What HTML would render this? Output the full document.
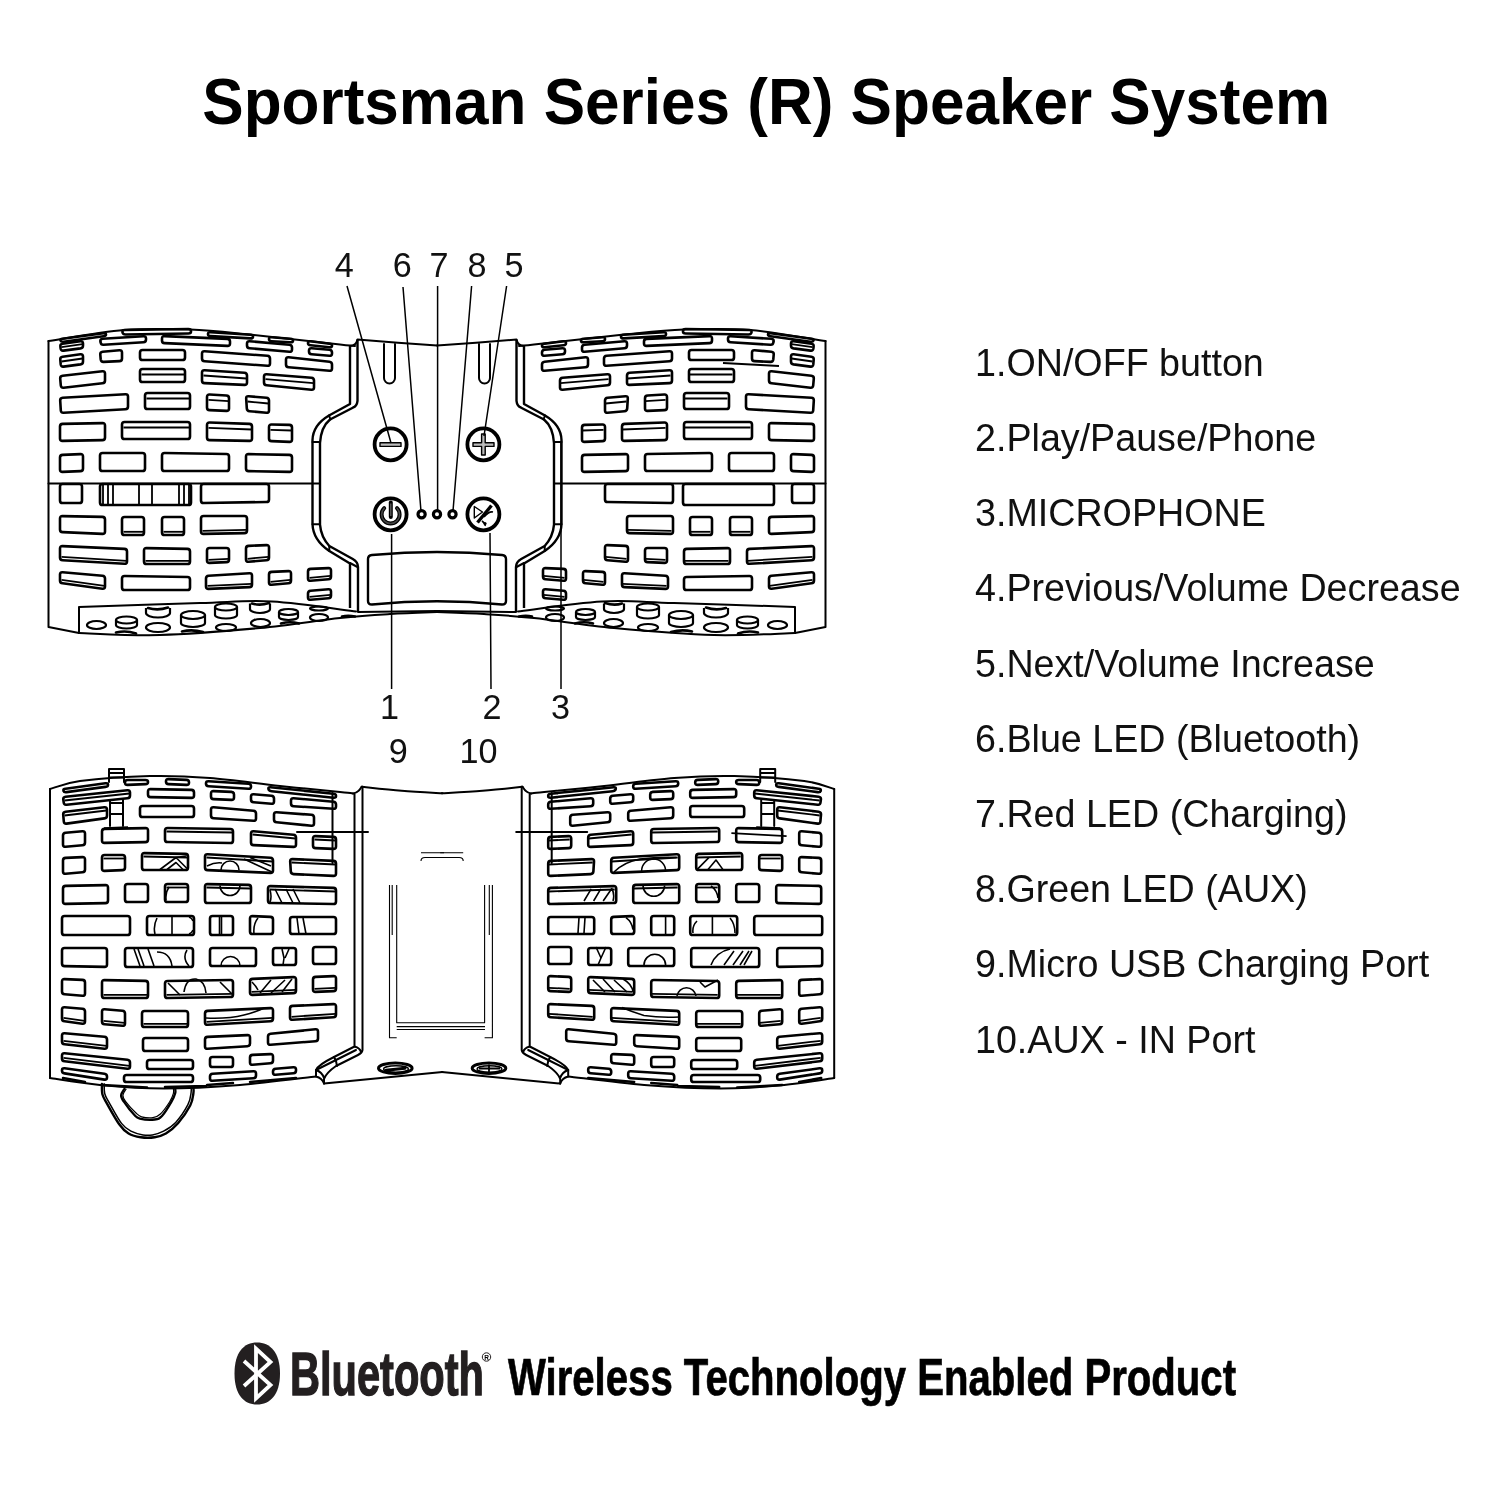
<!DOCTYPE html>
<html><head><meta charset="utf-8"><title>Sportsman Series Speaker System</title>
<style>
html,body{margin:0;padding:0;background:#fff;}
body{width:1500px;height:1500px;overflow:hidden;position:relative;}
svg{position:absolute;left:0;top:0;}
text{will-change:transform;}
text{font-family:"Liberation Sans",sans-serif;fill:#000;}
.title{font-size:64px;font-weight:bold;}
.li{font-size:39.4px;fill:#111;}
.lab{font-size:34.2px;text-anchor:middle;fill:#111;transform-box:fill-box;}
.bt{font-size:62px;font-weight:bold;fill:#231f20;stroke:#231f20;stroke-width:1.4;}
.wt{font-size:51.5px;font-weight:bold;stroke:#000;stroke-width:0.7;}
.ol{fill:none;stroke:#000;stroke-width:2;stroke-linejoin:round;stroke-linecap:round;}
.ow{fill:none;stroke:#000;stroke-width:2.4;stroke-linejoin:round;}
.ol2{fill:none;stroke:#000;stroke-width:3;}
.tl{fill:none;stroke:#000;stroke-width:1.1;stroke-linejoin:round;}
.hl path{fill:none;stroke:#000;stroke-width:2.6;stroke-linejoin:round;}
.hl .il,.il{fill:none;stroke:#000;stroke-width:1.8;}
.sl{fill:none;stroke:#000;stroke-width:2.5;stroke-linecap:round;}
.ov ellipse,.ov path{fill:none;stroke:#000;stroke-width:2.2;}
.btn circle{fill:none;stroke:#000;stroke-width:3.8;}
.led circle{fill:none;stroke:#000;stroke-width:3.2;}
.pw{fill:none;stroke:#000;stroke-width:4;stroke-linecap:round;}.pw0{fill:none;stroke:#444;stroke-width:1.6;stroke-linecap:round;}.pwb{fill:none;stroke:#000;stroke-width:4;stroke-linecap:round;}
.ld{fill:none;stroke:#000;stroke-width:1.5;}
</style></head>
<body>
<svg width="1500" height="1500" viewBox="0 0 1500 1500">
<text class="title" x="202.3" y="123.5" textLength="1127.8" lengthAdjust="spacingAndGlyphs">Sportsman Series (R) Speaker System</text>
<text class="li" x="975" y="375.9" transform="translate(975,0) scale(0.956,1) translate(-975,0)">1.ON/OFF button</text>
<text class="li" x="975" y="451.1" transform="translate(975,0) scale(0.956,1) translate(-975,0)">2.Play/Pause/Phone</text>
<text class="li" x="975" y="526.3" transform="translate(975,0) scale(0.956,1) translate(-975,0)">3.MICROPHONE</text>
<text class="li" x="975" y="601.5" transform="translate(975,0) scale(0.956,1) translate(-975,0)">4.Previous/Volume Decrease</text>
<text class="li" x="975" y="676.7" transform="translate(975,0) scale(0.956,1) translate(-975,0)">5.Next/Volume Increase</text>
<text class="li" x="975" y="751.9" transform="translate(975,0) scale(0.956,1) translate(-975,0)">6.Blue LED (Bluetooth)</text>
<text class="li" x="975" y="827.1" transform="translate(975,0) scale(0.956,1) translate(-975,0)">7.Red LED (Charging)</text>
<text class="li" x="975" y="902.3" transform="translate(975,0) scale(0.956,1) translate(-975,0)">8.Green LED (AUX)</text>
<text class="li" x="975" y="977.5" transform="translate(975,0) scale(0.956,1) translate(-975,0)">9.Micro USB Charging Port</text>
<text class="li" x="975" y="1052.7" transform="translate(975,0) scale(0.956,1) translate(-975,0)">10.AUX - IN Port</text>
<text class="lab" x="344.2" y="277.3">4</text>
<text class="lab" x="402.2" y="277.3">6</text>
<text class="lab" x="439" y="277.3">7</text>
<text class="lab" x="477" y="277.3">8</text>
<text class="lab" x="514" y="277.3">5</text>
<text class="lab" x="389.5" y="719.3">1</text>
<text class="lab" x="492" y="719.3">2</text>
<text class="lab" x="560.5" y="719.3">3</text>
<text class="lab" x="398.3" y="762.8">9</text>
<text class="lab" x="478.6" y="762.8">10</text>
<g><path class="ol" d="M48.5,341 C61.1,339.2 100.4,331.9 124,330 C147.6,328.1 169,328.8 190,329.5 C211,330.2 225,332 250,334.5 C275,337 322.5,342.6 340,344.5 C357.5,346.4 352.5,345.8 355,346"/>
<path class="ol" d="M48.5,341 V627 L79,633"/>
<path class="ol" d="M79,633 V607  C99.2,606.3 167.8,603.9 200,603 C232.2,602.1 246,600.1 272,601.5 C298,602.9 342,609.8 356,611.5"/>
<path class="ol" d="M79,633 C92.5,633.3 129.8,635.8 160,635 C190.2,634.2 230,630.8 260,628 C290,625.2 318.3,620.3 340,618 C361.7,615.7 373.8,615 390,614 C406.2,613 429.2,612.3 437,612"/>
<path class="ol" d="M358,612 L437,611"/>
<path class="ol" d="M48.5,483.6 H320"/>
<path class="ow" d="M350,346 V404 L329,415.5 Q313,425 312.5,440 V524 Q313,540 329.3,551 L350,563.5 V608"/>
<path class="ow" d="M357.5,339.5 V400.8 Q357,406 352.8,407.7 L330,419.5 Q321,427 320,443 V524.7 Q321,537 329.3,546 L352.8,559 Q358,562 358,567 V612"/>
<path class="ol" d="M329,415.5 L330.5,419.5 M312.5,442 H320 M312.5,524.3 H320 M329.3,546 V551 M350,563 L357.5,567"/>
<path class="ol" d="M350,346 Q356,346 357.5,339.5 L398,342.8 L437,345.5"/>
<path class="ol" d="M384,344 V378 A5.5,5.5 0 0 0 395,378 V344"/>
<g class="hl"><path d="M60.5,340.4 Q60,339 62.6,338.7 L103.4,333.3 Q106,333 106,334.4 L106,334.6 Q106,336 103.4,336.3 L63.6,341.7 Q61,342 60.5,340.6 Z"/><path d="M122.5,332 Q122,330 124.6,330 L188.4,329 Q191,329 191,331 L191,331.5 Q191,333.5 188.4,333.5 L125.6,334.5 Q123,334.5 122.5,332.5 Z"/><path d="M208,333.8 Q208,332 210.6,332.2 L250.4,334.8 Q253,335 253,336.6 L253,336.9 Q253,338.5 250.4,338.4 L210.6,336.1 Q208,336 208,334.2 Z"/><path d="M269,338.8 Q269,337 271.6,337.2 L290.4,338.8 Q293,339 293,340.6 L293,340.9 Q293,342.5 290.4,342.3 L271.6,341.2 Q269,341 269,339.2 Z"/><path d="M308,342.8 Q308,341 310.6,341.3 L329.4,343.7 Q332,344 332,345.6 L332,345.9 Q332,347.5 329.4,347.2 L310.6,345.3 Q308,345 308,343.2 Z"/><path d="M60.4,346.6 Q60,344 62.6,343.7 L80.4,341.3 Q83,341 83,343.6 L83,345.4 Q83,348 80.4,348.4 L63.6,350.6 Q61,351 60.6,348.4 Z"/><path class="il" d="M61.5,347.1 L82.5,344.1"/><path d="M100.4,341.6 Q100,339 102.6,338.8 L143.4,336.2 Q146,336 146,338.6 L146,339.4 Q146,342 143.4,342.2 L103.6,344.8 Q101,345 100.6,342.4 Z"/><path d="M162,338.6 Q162,336 164.6,336.1 L227.4,338.9 Q230,339 230,341.6 L230,343.4 Q230,346 227.4,345.9 L164.6,343.1 Q162,343 162,340.4 Z"/><path d="M247,343.6 Q247,341 249.6,341.2 L289.4,344.8 Q292,345 292,347.6 L292,349.4 Q292,352 289.4,351.8 L249.6,348.2 Q247,348 247,345.4 Z"/><path d="M309,350.6 Q309,348 311.6,348.2 L329.4,349.8 Q332,350 332,352.6 L332,353.4 Q332,356 329.4,355.8 L311.6,354.2 Q309,354 309,351.4 Z"/><path d="M60.3,359.6 Q60,357 62.6,356.7 L80.4,354.3 Q83,354 83,356.6 L83,361.4 Q83,364 80.4,364.4 L63.6,366.6 Q61,367 60.7,364.4 Z"/><path class="il" d="M61.5,361.5 L82.5,358.5"/><path d="M100.3,354.6 Q100,352 102.6,351.8 L119.4,350.2 Q122,350 122,352.6 L122,358.4 Q122,361 119.4,361.1 L103.6,361.9 Q101,362 100.7,359.4 Z"/><path d="M140,352.6 Q140,350 142.6,350 L182.4,350 Q185,350 185,352.6 L185,357.4 Q185,360 182.4,360 L142.6,360 Q140,360 140,357.4 Z"/><path d="M202,353.6 Q202,351 204.6,351.2 L267.4,355.8 Q270,356 270,358.6 L270,363.4 Q270,366 267.4,365.8 L204.6,361.2 Q202,361 202,358.4 Z"/><path d="M286,359.6 Q286,357 288.6,357.3 L329.4,361.7 Q332,362 332,364.6 L332,368.4 Q332,371 329.4,370.8 L288.6,367.2 Q286,367 286,364.4 Z"/><path d="M60.2,378.6 Q60,376 62.6,375.7 L102.4,371.3 Q105,371 105,373.6 L105,380.4 Q105,383 102.4,383.3 L63.6,387.7 Q61,388 60.8,385.4 Z"/><path d="M140,371.6 Q140,369 142.6,369 L182.4,369 Q185,369 185,371.6 L185,379.4 Q185,382 182.4,382 L142.6,382 Q140,382 140,379.4 Z"/><path class="il" d="M141.5,374.5 L184.5,374.5"/><path d="M202,372.6 Q202,370 204.6,370.2 L244.4,372.8 Q247,373 247,375.6 L247,382.4 Q247,385 244.4,384.9 L204.6,383.1 Q202,383 202,380.4 Z"/><path class="il" d="M203.5,375.5 L246.5,378.5"/><path d="M264,376.6 Q264,374 266.6,374.2 L311.4,377.8 Q314,378 314,380.6 L314,387.4 Q314,390 311.4,389.7 L266.6,385.3 Q264,385 264,382.4 Z"/><path class="il" d="M265.5,379.2 L313.5,383.2"/><path d="M60.2,400.6 Q60,398 62.6,397.8 L125.4,394.2 Q128,394 128,396.6 L128,406.4 Q128,409 125.4,409.2 L63.6,412.8 Q61,413 60.8,410.4 Z"/><path d="M145,395.6 Q145,393 147.6,393 L187.4,393 Q190,393 190,395.6 L190,406.4 Q190,409 187.4,409 L147.6,409 Q145,409 145,406.4 Z"/><path class="il" d="M146.5,398.5 L189.5,398.5"/><path d="M207,397 Q207,394.4 209.6,394.5 L226.4,395.5 Q229,395.6 229,398.2 L229,408.4 Q229,411 226.4,410.9 L209.6,410.1 Q207,410 207,407.4 Z"/><path class="il" d="M208.5,399.9 L228.5,401.1"/><path d="M246.2,398.6 Q246,396 248.6,396.2 L266.4,397.8 Q269,398 269,400.6 L269,410.4 Q269,413 266.4,412.8 L249.6,411.2 Q247,411 246.8,408.4 Z"/><path class="il" d="M247.5,401.5 L268.5,403.5"/><path d="M60,426.6 Q60,424 62.6,423.9 L102.4,423.1 Q105,423 105,425.6 L105,437.4 Q105,440 102.4,440.1 L62.6,440.9 Q60,441 60,438.4 Z"/><path d="M122,424.6 Q122,422 124.6,422 L187.4,422 Q190,422 190,424.6 L190,436.4 Q190,439 187.4,439 L124.6,439 Q122,439 122,436.4 Z"/><path class="il" d="M123.5,427.5 L189.5,427.5"/><path d="M207,425 Q207,422.4 209.6,422.5 L249.4,423.9 Q252,424 252,426.6 L252,438.4 Q252,441 249.4,440.9 L209.6,440.1 Q207,440 207,437.4 Z"/><path class="il" d="M208.5,427.9 L251.5,429.5"/><path d="M269,427 Q269,424.4 271.6,424.5 L289.4,424.9 Q292,425 292,427.6 L292,439.4 Q292,442 289.4,441.9 L271.6,441.1 Q269,441 269,438.4 Z"/><path class="il" d="M270.5,429.9 L291.5,430.5"/><path d="M60,457.6 Q60,455 62.6,454.9 L80.4,454.1 Q83,454 83,456.6 L83,468.4 Q83,471 80.4,471.1 L62.6,471.9 Q60,472 60,469.4 Z"/><path d="M100,455.6 Q100,453 102.6,453 L142.4,453 Q145,453 145,455.6 L145,468.4 Q145,471 142.4,471 L102.6,471 Q100,471 100,468.4 Z"/><path d="M162,455.6 Q162,453 164.6,453 L226.4,454 Q229,454 229,456.6 L229,468.4 Q229,471 226.4,471 L164.6,471 Q162,471 162,468.4 Z"/><path d="M246,456.6 Q246,454 248.6,454.1 L289.4,454.9 Q292,455 292,457.6 L292,469.4 Q292,472 289.4,471.9 L248.6,471.1 Q246,471 246,468.4 Z"/><path d="M60,486.6 Q60,484 62.6,484 L79.4,484 Q82,484 82,486.6 L82,500.4 Q82,503 79.4,503 L62.6,503 Q60,503 60,500.4 Z"/><path d="M100,486.6 Q100,484 102.6,484 L188.4,484 Q191,484 191,486.6 L191,502.4 Q191,505 188.4,505 L102.6,505 Q100,505 100,502.4 Z"/><path d="M201,486.6 Q201,484 203.6,484 L266.4,484 Q269,484 269,486.6 L269,499.4 Q269,502 266.4,502 L203.6,503 Q201,503 201,500.4 Z"/><path d="M60,518.6 Q60,516 62.6,516.1 L102.4,516.9 Q105,517 105,519.6 L105,531.4 Q105,534 102.4,533.9 L62.6,532.1 Q60,532 60,529.4 Z"/><path d="M122,519.6 Q122,517 124.6,517 L141.4,517 Q144,517 144,519.6 L144,532.4 Q144,535 141.4,535 L124.6,535 Q122,535 122,532.4 Z"/><path class="il" d="M123.5,531.8 L143.5,531.8"/><path d="M162,519.6 Q162,517 164.6,517 L181.4,517 Q184,517 184,519.6 L184,532.4 Q184,535 181.4,535 L164.6,535 Q162,535 162,532.4 Z"/><path class="il" d="M163.5,531.8 L183.5,531.8"/><path d="M201,518.6 Q201,516 203.6,516 L244.4,516 Q247,516 247,518.6 L247,530.4 Q247,533 244.4,533.1 L203.6,533.9 Q201,534 201,531.4 Z"/><path class="il" d="M202.5,530.8 L246.5,529.8"/><path d="M60,548.6 Q60,546 62.6,546.1 L124.4,548.9 Q127,549 127,551.6 L127,561.4 Q127,564 124.4,563.8 L62.6,560.2 Q60,560 60,557.4 Z"/><path class="il" d="M61.5,556.8 L126.5,560.8"/><path d="M144,550.6 Q144,548 146.6,548.1 L187.4,548.9 Q190,549 190,551.6 L190,561.4 Q190,564 187.4,564 L146.6,564 Q144,564 144,561.4 Z"/><path class="il" d="M145.5,560.8 L189.5,560.8"/><path d="M207,550.6 Q207,548 209.6,548 L226.4,548 Q229,548 229,550.6 L229,559.4 Q229,562 226.4,562.1 L209.6,562.9 Q207,563 207,560.4 Z"/><path class="il" d="M208.5,559.8 L228.5,558.8"/><path d="M246,548.6 Q246,546 248.6,545.9 L266.4,545.1 Q269,545 269,547.6 L269,557.4 Q269,560 266.4,560.2 L248.6,561.8 Q246,562 246,559.4 Z"/><path class="il" d="M247.5,558.8 L268.5,556.8"/><path d="M60,574.6 Q60,572 62.6,572.2 L102.4,575.8 Q105,576 105,578.6 L105,586.4 Q105,589 102.4,588.7 L62.6,583.3 Q60,583 60,580.4 Z"/><path class="il" d="M61.5,579.8 L104.5,585.8"/><path d="M122,578.6 Q122,576 124.6,576 L187.4,577 Q190,577 190,579.6 L190,587.4 Q190,590 187.4,590 L124.6,590 Q122,590 122,587.4 Z"/><path d="M206,578.6 Q206,576 208.6,575.8 L249.4,573.2 Q252,573 252,575.6 L252,584.4 Q252,587 249.4,587.1 L208.6,588.9 Q206,589 206,586.4 Z"/><path class="il" d="M207.5,585.8 L251.5,583.8"/><path d="M269,574.6 Q269,572 271.6,571.9 L288.4,571.1 Q291,571 291,573.6 L291,580.4 Q291,583 288.4,583.2 L271.6,584.8 Q269,585 269,582.4 Z"/><path class="il" d="M270.5,581.8 L290.5,579.8"/><path d="M308,571.6 Q308,569 310.6,568.9 L328.4,568.1 Q331,568 331,570.6 L331,576.4 Q331,579 328.4,579.2 L310.6,580.8 Q308,581 308,578.4 Z"/><path class="il" d="M309.5,577.8 L330.5,575.8"/><path d="M308,593.6 Q308,591 310.6,590.8 L328.4,589.2 Q331,589 331,591.6 L331,595.4 Q331,598 328.4,598.2 L310.6,599.8 Q308,600 308,597.4 Z"/><path class="il" d="M309.5,596.8 L330.5,594.8"/></g>
<g class="ov"><ellipse cx="96.5" cy="625" rx="9.5" ry="4"/><path d="M116,620 A10.5,3.5 0 0 1 137,620 V625 A10.5,3.5 0 0 1 116,625 Z"/><path d="M116,620 A10.5,3.5 0 0 0 137,620"/><path d="M146,608 V613 A12,4.5 0 0 0 170,613 V608"/><ellipse cx="158" cy="627.5" rx="12" ry="4.5"/><path d="M181,615 A12,4 0 0 1 205,615 V623 A12,4 0 0 1 181,623 Z"/><path d="M181,615 A12,4 0 0 0 205,615"/><path d="M215,607 A11,3.5 0 0 1 237,607 V615 A11,3.5 0 0 1 215,615 Z"/><path d="M215,607 A11,3.5 0 0 0 237,607"/><ellipse cx="226" cy="627.5" rx="10" ry="3.5"/><path d="M250,603.5 V609 A10,4 0 0 0 270,609 V603.5"/><ellipse cx="260.5" cy="623" rx="9.5" ry="4"/><path d="M279,612 A9.5,3 0 0 1 298,612 V617 A9.5,3 0 0 1 279,617 Z"/><path d="M279,612 A9.5,3 0 0 0 298,612"/><ellipse cx="319" cy="608.5" rx="9" ry="2"/><ellipse cx="319" cy="617.5" rx="9" ry="3.5"/></g>
<path fill="none" stroke="#000" stroke-width="2.6" stroke-linecap="round" d="M116,632.5 Q126,630 136,633.5 M182,631.5 Q192,629 203,632 M281,623.5 Q290,621 299,623.5 M342,616.5 Q348,615 355,616.5 M148,608 Q158,611 168,607.5 M252,603.5 Q260,606 269,603"/></g>
<g transform="translate(874,0) scale(-1,1)"><path class="ol" d="M48.5,341 C61.1,339.2 100.4,331.9 124,330 C147.6,328.1 169,328.8 190,329.5 C211,330.2 225,332 250,334.5 C275,337 322.5,342.6 340,344.5 C357.5,346.4 352.5,345.8 355,346"/>
<path class="ol" d="M48.5,341 V627 L79,633"/>
<path class="ol" d="M79,633 V607  C99.2,606.3 167.8,603.9 200,603 C232.2,602.1 246,600.1 272,601.5 C298,602.9 342,609.8 356,611.5"/>
<path class="ol" d="M79,633 C92.5,633.3 129.8,635.8 160,635 C190.2,634.2 230,630.8 260,628 C290,625.2 318.3,620.3 340,618 C361.7,615.7 373.8,615 390,614 C406.2,613 429.2,612.3 437,612"/>
<path class="ol" d="M358,612 L437,611"/>
<path class="ol" d="M48.5,483.6 H320"/>
<path class="ow" d="M350,346 V404 L329,415.5 Q313,425 312.5,440 V524 Q313,540 329.3,551 L350,563.5 V608"/>
<path class="ow" d="M357.5,339.5 V400.8 Q357,406 352.8,407.7 L330,419.5 Q321,427 320,443 V524.7 Q321,537 329.3,546 L352.8,559 Q358,562 358,567 V612"/>
<path class="ol" d="M329,415.5 L330.5,419.5 M312.5,442 H320 M312.5,524.3 H320 M329.3,546 V551 M350,563 L357.5,567"/>
<path class="ol" d="M350,346 Q356,346 357.5,339.5 L398,342.8 L437,345.5"/>
<path class="ol" d="M384,344 V378 A5.5,5.5 0 0 0 395,378 V344"/>
<g class="hl"><path d="M60.5,340.4 Q60,339 62.6,338.7 L103.4,333.3 Q106,333 106,334.4 L106,334.6 Q106,336 103.4,336.3 L63.6,341.7 Q61,342 60.5,340.6 Z"/><path d="M122.5,332 Q122,330 124.6,330 L188.4,329 Q191,329 191,331 L191,331.5 Q191,333.5 188.4,333.5 L125.6,334.5 Q123,334.5 122.5,332.5 Z"/><path d="M208,333.8 Q208,332 210.6,332.2 L250.4,334.8 Q253,335 253,336.6 L253,336.9 Q253,338.5 250.4,338.4 L210.6,336.1 Q208,336 208,334.2 Z"/><path d="M269,338.8 Q269,337 271.6,337.2 L290.4,338.8 Q293,339 293,340.6 L293,340.9 Q293,342.5 290.4,342.3 L271.6,341.2 Q269,341 269,339.2 Z"/><path d="M308,342.8 Q308,341 310.6,341.3 L329.4,343.7 Q332,344 332,345.6 L332,345.9 Q332,347.5 329.4,347.2 L310.6,345.3 Q308,345 308,343.2 Z"/><path d="M60.4,346.6 Q60,344 62.6,343.7 L80.4,341.3 Q83,341 83,343.6 L83,345.4 Q83,348 80.4,348.4 L63.6,350.6 Q61,351 60.6,348.4 Z"/><path class="il" d="M61.5,347.1 L82.5,344.1"/><path d="M100.4,341.6 Q100,339 102.6,338.8 L143.4,336.2 Q146,336 146,338.6 L146,339.4 Q146,342 143.4,342.2 L103.6,344.8 Q101,345 100.6,342.4 Z"/><path d="M162,338.6 Q162,336 164.6,336.1 L227.4,338.9 Q230,339 230,341.6 L230,343.4 Q230,346 227.4,345.9 L164.6,343.1 Q162,343 162,340.4 Z"/><path d="M247,343.6 Q247,341 249.6,341.2 L289.4,344.8 Q292,345 292,347.6 L292,349.4 Q292,352 289.4,351.8 L249.6,348.2 Q247,348 247,345.4 Z"/><path d="M309,350.6 Q309,348 311.6,348.2 L329.4,349.8 Q332,350 332,352.6 L332,353.4 Q332,356 329.4,355.8 L311.6,354.2 Q309,354 309,351.4 Z"/><path d="M60.3,359.6 Q60,357 62.6,356.7 L80.4,354.3 Q83,354 83,356.6 L83,361.4 Q83,364 80.4,364.4 L63.6,366.6 Q61,367 60.7,364.4 Z"/><path class="il" d="M61.5,361.5 L82.5,358.5"/><path d="M100.3,354.6 Q100,352 102.6,351.8 L119.4,350.2 Q122,350 122,352.6 L122,358.4 Q122,361 119.4,361.1 L103.6,361.9 Q101,362 100.7,359.4 Z"/><path d="M140,352.6 Q140,350 142.6,350 L182.4,350 Q185,350 185,352.6 L185,357.4 Q185,360 182.4,360 L142.6,360 Q140,360 140,357.4 Z"/><path d="M202,353.6 Q202,351 204.6,351.2 L267.4,355.8 Q270,356 270,358.6 L270,363.4 Q270,366 267.4,365.8 L204.6,361.2 Q202,361 202,358.4 Z"/><path d="M286,359.6 Q286,357 288.6,357.3 L329.4,361.7 Q332,362 332,364.6 L332,368.4 Q332,371 329.4,370.8 L288.6,367.2 Q286,367 286,364.4 Z"/><path d="M60.2,378.6 Q60,376 62.6,375.7 L102.4,371.3 Q105,371 105,373.6 L105,380.4 Q105,383 102.4,383.3 L63.6,387.7 Q61,388 60.8,385.4 Z"/><path d="M140,371.6 Q140,369 142.6,369 L182.4,369 Q185,369 185,371.6 L185,379.4 Q185,382 182.4,382 L142.6,382 Q140,382 140,379.4 Z"/><path class="il" d="M141.5,374.5 L184.5,374.5"/><path d="M202,372.6 Q202,370 204.6,370.2 L244.4,372.8 Q247,373 247,375.6 L247,382.4 Q247,385 244.4,384.9 L204.6,383.1 Q202,383 202,380.4 Z"/><path class="il" d="M203.5,375.5 L246.5,378.5"/><path d="M264,376.6 Q264,374 266.6,374.2 L311.4,377.8 Q314,378 314,380.6 L314,387.4 Q314,390 311.4,389.7 L266.6,385.3 Q264,385 264,382.4 Z"/><path class="il" d="M265.5,379.2 L313.5,383.2"/><path d="M60.2,400.6 Q60,398 62.6,397.8 L125.4,394.2 Q128,394 128,396.6 L128,406.4 Q128,409 125.4,409.2 L63.6,412.8 Q61,413 60.8,410.4 Z"/><path d="M145,395.6 Q145,393 147.6,393 L187.4,393 Q190,393 190,395.6 L190,406.4 Q190,409 187.4,409 L147.6,409 Q145,409 145,406.4 Z"/><path class="il" d="M146.5,398.5 L189.5,398.5"/><path d="M207,397 Q207,394.4 209.6,394.5 L226.4,395.5 Q229,395.6 229,398.2 L229,408.4 Q229,411 226.4,410.9 L209.6,410.1 Q207,410 207,407.4 Z"/><path class="il" d="M208.5,399.9 L228.5,401.1"/><path d="M246.2,398.6 Q246,396 248.6,396.2 L266.4,397.8 Q269,398 269,400.6 L269,410.4 Q269,413 266.4,412.8 L249.6,411.2 Q247,411 246.8,408.4 Z"/><path class="il" d="M247.5,401.5 L268.5,403.5"/><path d="M60,426.6 Q60,424 62.6,423.9 L102.4,423.1 Q105,423 105,425.6 L105,437.4 Q105,440 102.4,440.1 L62.6,440.9 Q60,441 60,438.4 Z"/><path d="M122,424.6 Q122,422 124.6,422 L187.4,422 Q190,422 190,424.6 L190,436.4 Q190,439 187.4,439 L124.6,439 Q122,439 122,436.4 Z"/><path class="il" d="M123.5,427.5 L189.5,427.5"/><path d="M207,425 Q207,422.4 209.6,422.5 L249.4,423.9 Q252,424 252,426.6 L252,438.4 Q252,441 249.4,440.9 L209.6,440.1 Q207,440 207,437.4 Z"/><path class="il" d="M208.5,427.9 L251.5,429.5"/><path d="M269,427 Q269,424.4 271.6,424.5 L289.4,424.9 Q292,425 292,427.6 L292,439.4 Q292,442 289.4,441.9 L271.6,441.1 Q269,441 269,438.4 Z"/><path class="il" d="M270.5,429.9 L291.5,430.5"/><path d="M60,457.6 Q60,455 62.6,454.9 L80.4,454.1 Q83,454 83,456.6 L83,468.4 Q83,471 80.4,471.1 L62.6,471.9 Q60,472 60,469.4 Z"/><path d="M100,455.6 Q100,453 102.6,453 L142.4,453 Q145,453 145,455.6 L145,468.4 Q145,471 142.4,471 L102.6,471 Q100,471 100,468.4 Z"/><path d="M162,455.6 Q162,453 164.6,453 L226.4,454 Q229,454 229,456.6 L229,468.4 Q229,471 226.4,471 L164.6,471 Q162,471 162,468.4 Z"/><path d="M246,456.6 Q246,454 248.6,454.1 L289.4,454.9 Q292,455 292,457.6 L292,469.4 Q292,472 289.4,471.9 L248.6,471.1 Q246,471 246,468.4 Z"/><path d="M60,486.6 Q60,484 62.6,484 L79.4,484 Q82,484 82,486.6 L82,500.4 Q82,503 79.4,503 L62.6,503 Q60,503 60,500.4 Z"/><path d="M100,486.6 Q100,484 102.6,484 L188.4,484 Q191,484 191,486.6 L191,502.4 Q191,505 188.4,505 L102.6,505 Q100,505 100,502.4 Z"/><path d="M201,486.6 Q201,484 203.6,484 L266.4,484 Q269,484 269,486.6 L269,499.4 Q269,502 266.4,502 L203.6,503 Q201,503 201,500.4 Z"/><path d="M60,518.6 Q60,516 62.6,516.1 L102.4,516.9 Q105,517 105,519.6 L105,531.4 Q105,534 102.4,533.9 L62.6,532.1 Q60,532 60,529.4 Z"/><path d="M122,519.6 Q122,517 124.6,517 L141.4,517 Q144,517 144,519.6 L144,532.4 Q144,535 141.4,535 L124.6,535 Q122,535 122,532.4 Z"/><path class="il" d="M123.5,531.8 L143.5,531.8"/><path d="M162,519.6 Q162,517 164.6,517 L181.4,517 Q184,517 184,519.6 L184,532.4 Q184,535 181.4,535 L164.6,535 Q162,535 162,532.4 Z"/><path class="il" d="M163.5,531.8 L183.5,531.8"/><path d="M201,518.6 Q201,516 203.6,516 L244.4,516 Q247,516 247,518.6 L247,530.4 Q247,533 244.4,533.1 L203.6,533.9 Q201,534 201,531.4 Z"/><path class="il" d="M202.5,530.8 L246.5,529.8"/><path d="M60,548.6 Q60,546 62.6,546.1 L124.4,548.9 Q127,549 127,551.6 L127,561.4 Q127,564 124.4,563.8 L62.6,560.2 Q60,560 60,557.4 Z"/><path class="il" d="M61.5,556.8 L126.5,560.8"/><path d="M144,550.6 Q144,548 146.6,548.1 L187.4,548.9 Q190,549 190,551.6 L190,561.4 Q190,564 187.4,564 L146.6,564 Q144,564 144,561.4 Z"/><path class="il" d="M145.5,560.8 L189.5,560.8"/><path d="M207,550.6 Q207,548 209.6,548 L226.4,548 Q229,548 229,550.6 L229,559.4 Q229,562 226.4,562.1 L209.6,562.9 Q207,563 207,560.4 Z"/><path class="il" d="M208.5,559.8 L228.5,558.8"/><path d="M246,548.6 Q246,546 248.6,545.9 L266.4,545.1 Q269,545 269,547.6 L269,557.4 Q269,560 266.4,560.2 L248.6,561.8 Q246,562 246,559.4 Z"/><path class="il" d="M247.5,558.8 L268.5,556.8"/><path d="M60,574.6 Q60,572 62.6,572.2 L102.4,575.8 Q105,576 105,578.6 L105,586.4 Q105,589 102.4,588.7 L62.6,583.3 Q60,583 60,580.4 Z"/><path class="il" d="M61.5,579.8 L104.5,585.8"/><path d="M122,578.6 Q122,576 124.6,576 L187.4,577 Q190,577 190,579.6 L190,587.4 Q190,590 187.4,590 L124.6,590 Q122,590 122,587.4 Z"/><path d="M206,578.6 Q206,576 208.6,575.8 L249.4,573.2 Q252,573 252,575.6 L252,584.4 Q252,587 249.4,587.1 L208.6,588.9 Q206,589 206,586.4 Z"/><path class="il" d="M207.5,585.8 L251.5,583.8"/><path d="M269,574.6 Q269,572 271.6,571.9 L288.4,571.1 Q291,571 291,573.6 L291,580.4 Q291,583 288.4,583.2 L271.6,584.8 Q269,585 269,582.4 Z"/><path class="il" d="M270.5,581.8 L290.5,579.8"/><path d="M308,571.6 Q308,569 310.6,568.9 L328.4,568.1 Q331,568 331,570.6 L331,576.4 Q331,579 328.4,579.2 L310.6,580.8 Q308,581 308,578.4 Z"/><path class="il" d="M309.5,577.8 L330.5,575.8"/><path d="M308,593.6 Q308,591 310.6,590.8 L328.4,589.2 Q331,589 331,591.6 L331,595.4 Q331,598 328.4,598.2 L310.6,599.8 Q308,600 308,597.4 Z"/><path class="il" d="M309.5,596.8 L330.5,594.8"/></g>
<g class="ov"><ellipse cx="96.5" cy="625" rx="9.5" ry="4"/><path d="M116,620 A10.5,3.5 0 0 1 137,620 V625 A10.5,3.5 0 0 1 116,625 Z"/><path d="M116,620 A10.5,3.5 0 0 0 137,620"/><path d="M146,608 V613 A12,4.5 0 0 0 170,613 V608"/><ellipse cx="158" cy="627.5" rx="12" ry="4.5"/><path d="M181,615 A12,4 0 0 1 205,615 V623 A12,4 0 0 1 181,623 Z"/><path d="M181,615 A12,4 0 0 0 205,615"/><path d="M215,607 A11,3.5 0 0 1 237,607 V615 A11,3.5 0 0 1 215,615 Z"/><path d="M215,607 A11,3.5 0 0 0 237,607"/><ellipse cx="226" cy="627.5" rx="10" ry="3.5"/><path d="M250,603.5 V609 A10,4 0 0 0 270,609 V603.5"/><ellipse cx="260.5" cy="623" rx="9.5" ry="4"/><path d="M279,612 A9.5,3 0 0 1 298,612 V617 A9.5,3 0 0 1 279,617 Z"/><path d="M279,612 A9.5,3 0 0 0 298,612"/><ellipse cx="319" cy="608.5" rx="9" ry="2"/><ellipse cx="319" cy="617.5" rx="9" ry="3.5"/></g>
<path fill="none" stroke="#000" stroke-width="2.6" stroke-linecap="round" d="M116,632.5 Q126,630 136,633.5 M182,631.5 Q192,629 203,632 M281,623.5 Q290,621 299,623.5 M342,616.5 Q348,615 355,616.5 M148,608 Q158,611 168,607.5 M252,603.5 Q260,606 269,603"/></g>
<g class="btn"><circle cx="390.6" cy="444.4" r="16"/><circle cx="483.4" cy="444.4" r="16"/><circle cx="390.6" cy="514.3" r="16"/><circle cx="483.4" cy="514.3" r="16"/></g>
<path class="tl" style="fill:#bbb;stroke-width:1.4" d="M380,442.8 H401 V446.4 H380 Z"/>
<path class="tl" style="fill:#bbb;stroke-width:1.4" d="M473,442.8 H481.6 V434 H485.2 V442.8 H494 V446.4 H485.2 V455 H481.6 V446.4 H473 Z"/>
<path class="pw" d="M384.2,508.2 A9,9 0 1 0 397,508.2"/><path class="pw0" d="M384.2,508.2 A9,9 0 1 0 397,508.2"/><path class="pwb" d="M390.8,502.6 V517"/><path fill="none" stroke="#666" stroke-width="1.2" d="M390.8,503.5 V516"/>
<path class="tl" style="stroke-width:1.4" d="M474.3,506.5 L482.5,512 L474.3,518 Z"/><path fill="none" stroke="#000" stroke-width="3.4" d="M477.5,522.5 L491.5,505.5"/><path fill="none" stroke="#000" stroke-width="1.6" d="M484,517 Q489,511 493,512 M482,521 Q486,524 485,526"/><circle cx="485" cy="523.5" r="1.6" fill="#000"/>
<g class="led"><circle cx="421.6" cy="514.3" r="3.6"/><circle cx="437" cy="514.3" r="3.6"/><circle cx="452.5" cy="514.3" r="3.6"/></g>
<path class="ol" style="stroke-width:2.4" d="M372,555 Q437,549 502,555 Q506,555.5 506,559 V601 Q506,604.5 502,604.5 Q437,598 372,604.5 Q368,604.5 368,601 V559 Q368,555.5 372,555 Z"/>
<path class="ld" d="M347,286 L391,443 M403,287 L421,511.5 M437.6,286 V511.5 M471.6,286 L453,511 M506.6,286 L484,436 M391.6,534 V689 M490,533 L491,689 M561,442 V689"/>
<path class="il" d="M103,484 V505 M108,484 V505 M113,484 V505 M139,484 V505 M152,484 V505 M179,484 V505 M184,484 V505 M189,484 V505"/>
<path class="il" d="M723,363 L779,366 M731.4,833.2 L786.6,836.2"/>
<g><path class="ol" d="M50,789 C55,787.7 63.3,783.2 80,781 C96.7,778.8 128.3,776.5 150,776 C171.7,775.5 188.3,776.3 210,778 C231.7,779.7 258.3,783.7 280,786 C301.7,788.3 327.8,790.8 340,792 C352.2,793.2 350.8,793.2 353,793.5"/>
<path class="ol" d="M353,793.5 Q358,793 361.7,786.7"/>
<path class="ol" d="M361.7,786.7 C368.4,787.4 388.2,789.7 401.7,790.8 C415.2,791.9 435.7,792.9 442.5,793.3"/>
<path class="ol" d="M50,789 V1078"/>
<path class="ol" d="M50,1078 C58.3,1079.2 81,1083.2 100,1085 C119,1086.8 140.7,1088.5 164,1088.5 C187.3,1088.5 214.7,1087 240,1085 C265.3,1083 303.3,1077.9 316,1076.5"/>
<path class="ol" d="M354.5,794 V1046.5 L334,1057 Q318,1065 316,1070 V1076.5 Q322,1078 324,1083.5"/>
<path class="ol" d="M362.5,786.7 V1050 Q362,1053 358,1055 L336,1066 Q326,1073 324,1079 V1083.5"/>
<path class="ol" d="M354.5,1046.5 Q360,1048 361,1052 M356,1050 L335,1060.5 Q320,1068 316,1070 Q322,1072 324,1078 M334,1057 L336,1061 L337,1066"/>
<path class="ol" d="M324,1083.5 L442.5,1072"/>
<path class="ol" d="M109,782 V769 H124 V782 M109,773 H124 M109,777.5 H124 M110,800 V826 M123,800 V826 M110,803 H123 M110,814 H123"/><path fill="none" stroke="#000" stroke-width="2.4" d="M104,828.5 L128,827.5"/>
<g class="hl"><path d="M63.5,790.6 Q63,789 65.6,788.7 L105.4,783.3 Q108,783 108,784.6 L108,784.9 Q108,786.5 105.4,786.9 L66.6,792.1 Q64,792.5 63.5,790.9 Z"/><path d="M125,782.3 Q125,780 127.6,780 L145.4,780 Q148,780 148,781.8 L148,782.2 Q148,784 145.4,784.1 L127.6,784.9 Q125,785 125,782.7 Z"/><path d="M166,781.3 Q166,779 168.6,779.1 L186.4,779.9 Q189,780 189,782.3 L189,782.7 Q189,785 186.4,784.9 L168.6,784.1 Q166,784 166,781.7 Z"/><path d="M206,783.3 Q206,781 208.6,781.2 L248.4,783.8 Q251,784 251,786.3 L251,786.7 Q251,789 248.4,788.8 L208.6,786.2 Q206,786 206,783.7 Z"/><path d="M268.5,788.8 Q268,787 270.6,787.3 L333.4,793.7 Q336,794 336,795.8 L336,796.2 Q336,798 333.4,797.7 L271.6,791.3 Q269,791 268.5,789.2 Z"/><path d="M63.3,799.6 Q63,797 65.6,796.7 L127.4,790.3 Q130,790 130,792.6 L130,795.4 Q130,798 127.4,798.3 L66.6,804.7 Q64,805 63.7,802.4 Z"/><path class="il" d="M64.5,800.5 L129.5,793.5"/><path d="M148,791.6 Q148,789 150.6,789.1 L191.4,789.9 Q194,790 194,792.6 L194,795.4 Q194,798 191.4,797.9 L150.6,797.1 Q148,797 148,794.4 Z"/><path d="M211,793.6 Q211,791 213.6,791.1 L231.4,791.9 Q234,792 234,794.6 L234,797.4 Q234,800 231.4,799.9 L213.6,799.1 Q211,799 211,796.4 Z"/><path d="M251,796.6 Q251,794 253.6,794.2 L271.4,795.8 Q274,796 274,798.6 L274,801.4 Q274,804 271.4,803.8 L253.6,802.2 Q251,802 251,799.4 Z"/><path d="M291,800.6 Q291,798 293.6,798.2 L333.4,801.8 Q336,802 336,804.6 L336,806.4 Q336,809 333.4,808.8 L293.6,806.2 Q291,806 291,803.4 Z"/><path d="M63.2,814.6 Q63,812 65.6,811.7 L104.4,807.3 Q107,807 107,809.6 L107,815.4 Q107,818 104.4,818.4 L66.6,823.6 Q64,824 63.8,821.4 Z"/><path class="il" d="M64.5,815.5 L106.5,810.5"/><path d="M140,808.6 Q140,806 142.6,806 L191.4,806 Q194,806 194,808.6 L194,814.4 Q194,817 191.4,817 L142.6,817 Q140,817 140,814.4 Z"/><path d="M211,809.6 Q211,807 213.6,807.2 L253.4,810.8 Q256,811 256,813.6 L256,818.4 Q256,821 253.4,820.8 L213.6,818.2 Q211,818 211,815.4 Z"/><path d="M274,814.6 Q274,812 276.6,812.2 L311.4,814.8 Q314,815 314,817.6 L314,823.4 Q314,826 311.4,825.7 L276.6,822.3 Q274,822 274,819.4 Z"/><path d="M63,835.6 Q63,833 65.6,832.8 L82.4,831.2 Q85,831 85,833.6 L85,842.4 Q85,845 82.4,845.2 L65.6,846.8 Q63,847 63,844.4 Z"/><path d="M102,831.6 Q102,829 104.6,828.9 L145.4,828.1 Q148,828 148,830.6 L148,839.4 Q148,842 145.4,842.1 L104.6,842.9 Q102,843 102,840.4 Z"/><path d="M165,830.6 Q165,828 167.6,828 L230.4,829 Q233,829 233,831.6 L233,840.4 Q233,843 230.4,843 L167.6,842 Q165,842 165,839.4 Z"/><path class="il" d="M166.5,831.5 L232.5,832.5"/><path d="M251,833.6 Q251,831 253.6,831.2 L293.4,834.8 Q296,835 296,837.6 L296,844.4 Q296,847 293.4,846.9 L253.6,845.1 Q251,845 251,842.4 Z"/><path class="il" d="M252.5,834.5 L295.5,838.5"/><path d="M313,838.6 Q313,836 315.6,836.1 L333.4,836.9 Q336,837 336,839.6 L336,846.4 Q336,849 333.4,848.9 L315.6,848.1 Q313,848 313,845.4 Z"/><path class="il" d="M314.5,839.5 L335.5,840.5"/><path d="M63,860.6 Q63,858 65.6,857.9 L82.4,857.1 Q85,857 85,859.6 L85,869.4 Q85,872 82.4,872.2 L65.6,873.8 Q63,874 63,871.4 Z"/><path d="M102,857.6 Q102,855 104.6,855 L122.4,855 Q125,855 125,857.6 L125,867.4 Q125,870 122.4,870.1 L104.6,870.9 Q102,871 102,868.4 Z"/><path class="il" d="M103.5,858.5 L124.5,858.5"/><path d="M142,855.6 Q142,853 144.6,853.1 L185.4,853.9 Q188,854 188,856.6 L188,867.4 Q188,870 185.4,870 L144.6,870 Q142,870 142,867.4 Z"/><path class="il" d="M143.5,856.5 L187.5,857.5"/><path d="M205,856.6 Q205,854 207.6,854.2 L270.4,857.8 Q273,858 273,860.6 L273,870.4 Q273,873 270.4,872.9 L207.6,870.1 Q205,870 205,867.4 Z"/><path class="il" d="M206.5,857.5 L272.5,861.5"/><path d="M290.2,861.6 Q290,859 292.6,859.1 L333.4,860.9 Q336,861 336,863.6 L336,873.4 Q336,876 333.4,875.9 L293.6,874.1 Q291,874 290.8,871.4 Z"/><path class="il" d="M291.5,862.5 L335.5,864.5"/><path d="M63,888.6 Q63,886 65.6,885.9 L105.4,885.1 Q108,885 108,887.6 L108,900.4 Q108,903 105.4,903.1 L65.6,903.9 Q63,904 63,901.4 Z"/><path d="M125,886.6 Q125,884 127.6,884 L145.4,884 Q148,884 148,886.6 L148,899.4 Q148,902 145.4,902 L127.6,902 Q125,902 125,899.4 Z"/><path d="M165,886.6 Q165,884 167.6,884 L185.4,884 Q188,884 188,886.6 L188,899.4 Q188,902 185.4,902 L167.6,902 Q165,902 165,899.4 Z"/><path class="il" d="M166.5,887.5 L187.5,887.5"/><path d="M205,886.6 Q205,884 207.6,884.1 L248.4,884.9 Q251,885 251,887.6 L251,900.4 Q251,903 248.4,903 L207.6,903 Q205,903 205,900.4 Z"/><path class="il" d="M206.5,887.5 L250.5,888.5"/><path d="M268,888.6 Q268,886 270.6,886.1 L333.4,887.9 Q336,888 336,890.6 L336,901.4 Q336,904 333.4,904 L270.6,903 Q268,903 268,900.4 Z"/><path class="il" d="M269.5,889.5 L335.5,891.5"/><path d="M62,918.6 Q62,916 64.6,916 L127.4,916 Q130,916 130,918.6 L130,932.4 Q130,935 127.4,935 L64.6,935 Q62,935 62,932.4 Z"/><path d="M147,918.6 Q147,916 149.6,916 L191.4,916 Q194,916 194,918.6 L194,932.4 Q194,935 191.4,935 L149.6,935 Q147,935 147,932.4 Z"/><path d="M210,918.6 Q210,916 212.6,916 L230.4,916 Q233,916 233,918.6 L233,932.4 Q233,935 230.4,935 L212.6,935 Q210,935 210,932.4 Z"/><path d="M250,918.6 Q250,916 252.6,916.1 L270.4,916.9 Q273,917 273,919.6 L273,931.4 Q273,934 270.4,934 L252.6,934 Q250,934 250,931.4 Z"/><path d="M290,919.6 Q290,917 292.6,917 L333.4,917 Q336,917 336,919.6 L336,931.4 Q336,934 333.4,934 L292.6,934 Q290,934 290,931.4 Z"/><path d="M62,950.6 Q62,948 64.6,948 L104.4,948 Q107,948 107,950.6 L107,964.4 Q107,967 104.4,966.9 L64.6,966.1 Q62,966 62,963.4 Z"/><path d="M125,950.6 Q125,948 127.6,948 L190.4,948 Q193,948 193,950.6 L193,964.4 Q193,967 190.4,967 L127.6,967 Q125,967 125,964.4 Z"/><path d="M210,950.6 Q210,948 212.6,948 L253.4,948 Q256,948 256,950.6 L256,963.4 Q256,966 253.4,966 L212.6,966 Q210,966 210,963.4 Z"/><path d="M273,950.6 Q273,948 275.6,948 L293.4,948 Q296,948 296,950.6 L296,962.4 Q296,965 293.4,965 L275.6,965 Q273,965 273,962.4 Z"/><path d="M313,949.6 Q313,947 315.6,947 L333.4,947 Q336,947 336,949.6 L336,961.4 Q336,964 333.4,964 L315.6,964 Q313,964 313,961.4 Z"/><path d="M62,981.6 Q62,979 64.6,979.1 L82.4,979.9 Q85,980 85,982.6 L85,993.4 Q85,996 82.4,995.8 L64.6,994.2 Q62,994 62,991.4 Z"/><path d="M102,982.6 Q102,980 104.6,980.1 L145.4,980.9 Q148,981 148,983.6 L148,995.4 Q148,998 145.4,998 L104.6,998 Q102,998 102,995.4 Z"/><path class="il" d="M103.5,994.8 L147.5,994.8"/><path d="M165,983.6 Q165,981 167.6,981 L230.4,980 Q233,980 233,982.6 L233,994.4 Q233,997 230.4,997 L167.6,998 Q165,998 165,995.4 Z"/><path class="il" d="M166.5,994.8 L232.5,993.8"/><path d="M250,981.6 Q250,979 252.6,978.9 L293.4,977.1 Q296,977 296,979.6 L296,990.4 Q296,993 293.4,993.1 L252.6,994.9 Q250,995 250,992.4 Z"/><path class="il" d="M251.5,991.8 L295.5,989.8"/><path d="M313,979.6 Q313,977 315.6,976.9 L333.4,976.1 Q336,976 336,978.6 L336,988.4 Q336,991 333.4,991.1 L315.6,991.9 Q313,992 313,989.4 Z"/><path class="il" d="M314.5,988.8 L335.5,987.8"/><path d="M62,1009.6 Q62,1007 64.6,1007.2 L82.4,1008.8 Q85,1009 85,1011.6 L85,1021.4 Q85,1024 82.4,1023.7 L64.6,1021.3 Q62,1021 62,1018.4 Z"/><path class="il" d="M63.5,1017.8 L84.5,1020.8"/><path d="M102,1011.6 Q102,1009 104.6,1009.2 L122.4,1010.8 Q125,1011 125,1013.6 L125,1023.4 Q125,1026 122.4,1025.8 L104.6,1024.2 Q102,1024 102,1021.4 Z"/><path class="il" d="M103.5,1020.8 L124.5,1022.8"/><path d="M142,1013.6 Q142,1011 144.6,1011 L185.4,1011 Q188,1011 188,1013.6 L188,1024.4 Q188,1027 185.4,1027 L144.6,1027 Q142,1027 142,1024.4 Z"/><path class="il" d="M143.5,1023.8 L187.5,1023.8"/><path d="M205,1013.6 Q205,1011 207.6,1010.9 L270.4,1008.1 Q273,1008 273,1010.6 L273,1018.4 Q273,1021 270.4,1021.2 L207.6,1024.8 Q205,1025 205,1022.4 Z"/><path class="il" d="M206.5,1021.8 L272.5,1017.8"/><path d="M290,1008.6 Q290,1006 292.6,1005.9 L333.4,1004.1 Q336,1004 336,1006.6 L336,1014.4 Q336,1017 333.4,1017.2 L292.6,1019.8 Q290,1020 290,1017.4 Z"/><path class="il" d="M291.5,1016.8 L335.5,1013.8"/><path d="M62,1035.6 Q62,1033 64.6,1033.2 L104.4,1036.8 Q107,1037 107,1039.6 L107,1046.4 Q107,1049 104.4,1048.7 L64.6,1044.3 Q62,1044 62,1041.4 Z"/><path class="il" d="M63.5,1040.8 L106.5,1045.8"/><path d="M143,1040.6 Q143,1038 145.6,1038 L185.4,1038 Q188,1038 188,1040.6 L188,1048.4 Q188,1051 185.4,1051 L145.6,1051 Q143,1051 143,1048.4 Z"/><path d="M205,1039.6 Q205,1037 207.6,1036.9 L247.4,1035.1 Q250,1035 250,1037.6 L250,1043.4 Q250,1046 247.4,1046.2 L207.6,1048.8 Q205,1049 205,1046.4 Z"/><path d="M268,1036.6 Q268,1034 270.6,1033.7 L315.4,1029.3 Q318,1029 318,1031.6 L318,1038.4 Q318,1041 315.4,1041.2 L270.6,1044.8 Q268,1045 268,1042.4 Z"/><path d="M62,1055.6 Q62,1053 64.6,1053.3 L127.4,1059.7 Q130,1060 130,1062.6 L130,1066.4 Q130,1069 127.4,1068.7 L64.6,1061.3 Q62,1061 62,1058.4 Z"/><path class="il" d="M63.5,1057.8 L129.5,1065.8"/><path d="M147,1062.6 Q147,1060 149.6,1060 L190.4,1060 Q193,1060 193,1062.6 L193,1066.4 Q193,1069 190.4,1069 L149.6,1069 Q147,1069 147,1066.4 Z"/><path d="M210,1059.6 Q210,1057 212.6,1057 L230.4,1057 Q233,1057 233,1059.6 L233,1064.4 Q233,1067 230.4,1067 L212.6,1067 Q210,1067 210,1064.4 Z"/><path d="M250,1057.6 Q250,1055 252.6,1054.9 L270.4,1054.1 Q273,1054 273,1056.6 L273,1060.4 Q273,1063 270.4,1063.2 L252.6,1064.8 Q250,1065 250,1062.4 Z"/><path d="M62,1070.3 Q62,1068 64.6,1068.3 L104.4,1073.7 Q107,1074 107,1076.6 L107,1077.4 Q107,1080 104.4,1079.6 L64.6,1073.4 Q62,1073 62,1070.7 Z"/><path d="M124,1077.6 Q124,1075 126.6,1075 L190.4,1075 Q193,1075 193,1077.6 L193,1079.4 Q193,1082 190.4,1082 L126.6,1082 Q124,1082 124,1079.4 Z"/><path d="M210,1076.6 Q210,1074 212.6,1073.8 L253.4,1071.2 Q256,1071 256,1073.6 L256,1075.4 Q256,1078 253.4,1078.2 L212.6,1080.8 Q210,1081 210,1078.4 Z"/><path d="M273,1071.6 Q273,1069 275.6,1068.8 L293.4,1067.2 Q296,1067 296,1069.6 L296,1070.4 Q296,1073 293.4,1073.2 L275.6,1074.8 Q273,1075 273,1072.4 Z"/></g>
<path class="sl" d="M63,1078 L85,1082 M102,1085 L147,1087.5 M165,1087 L206,1086 M207,1085 L233,1083 M250,1082 L296,1078"/>
<path class="ol" d="M332.5,793 V863 M297,832 H368"/>
<path class="tl" d="M421,852.8 H444 M421,861 Q421,857.5 425,857.5 H444"/></g>
<g transform="translate(884.2,0) scale(-1,1)"><path class="ol" d="M50,789 C55,787.7 63.3,783.2 80,781 C96.7,778.8 128.3,776.5 150,776 C171.7,775.5 188.3,776.3 210,778 C231.7,779.7 258.3,783.7 280,786 C301.7,788.3 327.8,790.8 340,792 C352.2,793.2 350.8,793.2 353,793.5"/>
<path class="ol" d="M353,793.5 Q358,793 361.7,786.7"/>
<path class="ol" d="M361.7,786.7 C368.4,787.4 388.2,789.7 401.7,790.8 C415.2,791.9 435.7,792.9 442.5,793.3"/>
<path class="ol" d="M50,789 V1078"/>
<path class="ol" d="M50,1078 C58.3,1079.2 81,1083.2 100,1085 C119,1086.8 140.7,1088.5 164,1088.5 C187.3,1088.5 214.7,1087 240,1085 C265.3,1083 303.3,1077.9 316,1076.5"/>
<path class="ol" d="M354.5,794 V1046.5 L334,1057 Q318,1065 316,1070 V1076.5 Q322,1078 324,1083.5"/>
<path class="ol" d="M362.5,786.7 V1050 Q362,1053 358,1055 L336,1066 Q326,1073 324,1079 V1083.5"/>
<path class="ol" d="M354.5,1046.5 Q360,1048 361,1052 M356,1050 L335,1060.5 Q320,1068 316,1070 Q322,1072 324,1078 M334,1057 L336,1061 L337,1066"/>
<path class="ol" d="M324,1083.5 L442.5,1072"/>
<path class="ol" d="M109,782 V769 H124 V782 M109,773 H124 M109,777.5 H124 M110,800 V826 M123,800 V826 M110,803 H123 M110,814 H123"/><path fill="none" stroke="#000" stroke-width="2.4" d="M104,828.5 L128,827.5"/>
<g class="hl"><path d="M63.5,790.6 Q63,789 65.6,788.7 L105.4,783.3 Q108,783 108,784.6 L108,784.9 Q108,786.5 105.4,786.9 L66.6,792.1 Q64,792.5 63.5,790.9 Z"/><path d="M125,782.3 Q125,780 127.6,780 L145.4,780 Q148,780 148,781.8 L148,782.2 Q148,784 145.4,784.1 L127.6,784.9 Q125,785 125,782.7 Z"/><path d="M166,781.3 Q166,779 168.6,779.1 L186.4,779.9 Q189,780 189,782.3 L189,782.7 Q189,785 186.4,784.9 L168.6,784.1 Q166,784 166,781.7 Z"/><path d="M206,783.3 Q206,781 208.6,781.2 L248.4,783.8 Q251,784 251,786.3 L251,786.7 Q251,789 248.4,788.8 L208.6,786.2 Q206,786 206,783.7 Z"/><path d="M268.5,788.8 Q268,787 270.6,787.3 L333.4,793.7 Q336,794 336,795.8 L336,796.2 Q336,798 333.4,797.7 L271.6,791.3 Q269,791 268.5,789.2 Z"/><path d="M63.3,799.6 Q63,797 65.6,796.7 L127.4,790.3 Q130,790 130,792.6 L130,795.4 Q130,798 127.4,798.3 L66.6,804.7 Q64,805 63.7,802.4 Z"/><path class="il" d="M64.5,800.5 L129.5,793.5"/><path d="M148,791.6 Q148,789 150.6,789.1 L191.4,789.9 Q194,790 194,792.6 L194,795.4 Q194,798 191.4,797.9 L150.6,797.1 Q148,797 148,794.4 Z"/><path d="M211,793.6 Q211,791 213.6,791.1 L231.4,791.9 Q234,792 234,794.6 L234,797.4 Q234,800 231.4,799.9 L213.6,799.1 Q211,799 211,796.4 Z"/><path d="M251,796.6 Q251,794 253.6,794.2 L271.4,795.8 Q274,796 274,798.6 L274,801.4 Q274,804 271.4,803.8 L253.6,802.2 Q251,802 251,799.4 Z"/><path d="M291,800.6 Q291,798 293.6,798.2 L333.4,801.8 Q336,802 336,804.6 L336,806.4 Q336,809 333.4,808.8 L293.6,806.2 Q291,806 291,803.4 Z"/><path d="M63.2,814.6 Q63,812 65.6,811.7 L104.4,807.3 Q107,807 107,809.6 L107,815.4 Q107,818 104.4,818.4 L66.6,823.6 Q64,824 63.8,821.4 Z"/><path class="il" d="M64.5,815.5 L106.5,810.5"/><path d="M140,808.6 Q140,806 142.6,806 L191.4,806 Q194,806 194,808.6 L194,814.4 Q194,817 191.4,817 L142.6,817 Q140,817 140,814.4 Z"/><path d="M211,809.6 Q211,807 213.6,807.2 L253.4,810.8 Q256,811 256,813.6 L256,818.4 Q256,821 253.4,820.8 L213.6,818.2 Q211,818 211,815.4 Z"/><path d="M274,814.6 Q274,812 276.6,812.2 L311.4,814.8 Q314,815 314,817.6 L314,823.4 Q314,826 311.4,825.7 L276.6,822.3 Q274,822 274,819.4 Z"/><path d="M63,835.6 Q63,833 65.6,832.8 L82.4,831.2 Q85,831 85,833.6 L85,842.4 Q85,845 82.4,845.2 L65.6,846.8 Q63,847 63,844.4 Z"/><path d="M102,831.6 Q102,829 104.6,828.9 L145.4,828.1 Q148,828 148,830.6 L148,839.4 Q148,842 145.4,842.1 L104.6,842.9 Q102,843 102,840.4 Z"/><path d="M165,830.6 Q165,828 167.6,828 L230.4,829 Q233,829 233,831.6 L233,840.4 Q233,843 230.4,843 L167.6,842 Q165,842 165,839.4 Z"/><path class="il" d="M166.5,831.5 L232.5,832.5"/><path d="M251,833.6 Q251,831 253.6,831.2 L293.4,834.8 Q296,835 296,837.6 L296,844.4 Q296,847 293.4,846.9 L253.6,845.1 Q251,845 251,842.4 Z"/><path class="il" d="M252.5,834.5 L295.5,838.5"/><path d="M313,838.6 Q313,836 315.6,836.1 L333.4,836.9 Q336,837 336,839.6 L336,846.4 Q336,849 333.4,848.9 L315.6,848.1 Q313,848 313,845.4 Z"/><path class="il" d="M314.5,839.5 L335.5,840.5"/><path d="M63,860.6 Q63,858 65.6,857.9 L82.4,857.1 Q85,857 85,859.6 L85,869.4 Q85,872 82.4,872.2 L65.6,873.8 Q63,874 63,871.4 Z"/><path d="M102,857.6 Q102,855 104.6,855 L122.4,855 Q125,855 125,857.6 L125,867.4 Q125,870 122.4,870.1 L104.6,870.9 Q102,871 102,868.4 Z"/><path class="il" d="M103.5,858.5 L124.5,858.5"/><path d="M142,855.6 Q142,853 144.6,853.1 L185.4,853.9 Q188,854 188,856.6 L188,867.4 Q188,870 185.4,870 L144.6,870 Q142,870 142,867.4 Z"/><path class="il" d="M143.5,856.5 L187.5,857.5"/><path d="M205,856.6 Q205,854 207.6,854.2 L270.4,857.8 Q273,858 273,860.6 L273,870.4 Q273,873 270.4,872.9 L207.6,870.1 Q205,870 205,867.4 Z"/><path class="il" d="M206.5,857.5 L272.5,861.5"/><path d="M290.2,861.6 Q290,859 292.6,859.1 L333.4,860.9 Q336,861 336,863.6 L336,873.4 Q336,876 333.4,875.9 L293.6,874.1 Q291,874 290.8,871.4 Z"/><path class="il" d="M291.5,862.5 L335.5,864.5"/><path d="M63,888.6 Q63,886 65.6,885.9 L105.4,885.1 Q108,885 108,887.6 L108,900.4 Q108,903 105.4,903.1 L65.6,903.9 Q63,904 63,901.4 Z"/><path d="M125,886.6 Q125,884 127.6,884 L145.4,884 Q148,884 148,886.6 L148,899.4 Q148,902 145.4,902 L127.6,902 Q125,902 125,899.4 Z"/><path d="M165,886.6 Q165,884 167.6,884 L185.4,884 Q188,884 188,886.6 L188,899.4 Q188,902 185.4,902 L167.6,902 Q165,902 165,899.4 Z"/><path class="il" d="M166.5,887.5 L187.5,887.5"/><path d="M205,886.6 Q205,884 207.6,884.1 L248.4,884.9 Q251,885 251,887.6 L251,900.4 Q251,903 248.4,903 L207.6,903 Q205,903 205,900.4 Z"/><path class="il" d="M206.5,887.5 L250.5,888.5"/><path d="M268,888.6 Q268,886 270.6,886.1 L333.4,887.9 Q336,888 336,890.6 L336,901.4 Q336,904 333.4,904 L270.6,903 Q268,903 268,900.4 Z"/><path class="il" d="M269.5,889.5 L335.5,891.5"/><path d="M62,918.6 Q62,916 64.6,916 L127.4,916 Q130,916 130,918.6 L130,932.4 Q130,935 127.4,935 L64.6,935 Q62,935 62,932.4 Z"/><path d="M147,918.6 Q147,916 149.6,916 L191.4,916 Q194,916 194,918.6 L194,932.4 Q194,935 191.4,935 L149.6,935 Q147,935 147,932.4 Z"/><path d="M210,918.6 Q210,916 212.6,916 L230.4,916 Q233,916 233,918.6 L233,932.4 Q233,935 230.4,935 L212.6,935 Q210,935 210,932.4 Z"/><path d="M250,918.6 Q250,916 252.6,916.1 L270.4,916.9 Q273,917 273,919.6 L273,931.4 Q273,934 270.4,934 L252.6,934 Q250,934 250,931.4 Z"/><path d="M290,919.6 Q290,917 292.6,917 L333.4,917 Q336,917 336,919.6 L336,931.4 Q336,934 333.4,934 L292.6,934 Q290,934 290,931.4 Z"/><path d="M62,950.6 Q62,948 64.6,948 L104.4,948 Q107,948 107,950.6 L107,964.4 Q107,967 104.4,966.9 L64.6,966.1 Q62,966 62,963.4 Z"/><path d="M125,950.6 Q125,948 127.6,948 L190.4,948 Q193,948 193,950.6 L193,964.4 Q193,967 190.4,967 L127.6,967 Q125,967 125,964.4 Z"/><path d="M210,950.6 Q210,948 212.6,948 L253.4,948 Q256,948 256,950.6 L256,963.4 Q256,966 253.4,966 L212.6,966 Q210,966 210,963.4 Z"/><path d="M273,950.6 Q273,948 275.6,948 L293.4,948 Q296,948 296,950.6 L296,962.4 Q296,965 293.4,965 L275.6,965 Q273,965 273,962.4 Z"/><path d="M313,949.6 Q313,947 315.6,947 L333.4,947 Q336,947 336,949.6 L336,961.4 Q336,964 333.4,964 L315.6,964 Q313,964 313,961.4 Z"/><path d="M62,981.6 Q62,979 64.6,979.1 L82.4,979.9 Q85,980 85,982.6 L85,993.4 Q85,996 82.4,995.8 L64.6,994.2 Q62,994 62,991.4 Z"/><path d="M102,982.6 Q102,980 104.6,980.1 L145.4,980.9 Q148,981 148,983.6 L148,995.4 Q148,998 145.4,998 L104.6,998 Q102,998 102,995.4 Z"/><path class="il" d="M103.5,994.8 L147.5,994.8"/><path d="M165,983.6 Q165,981 167.6,981 L230.4,980 Q233,980 233,982.6 L233,994.4 Q233,997 230.4,997 L167.6,998 Q165,998 165,995.4 Z"/><path class="il" d="M166.5,994.8 L232.5,993.8"/><path d="M250,981.6 Q250,979 252.6,978.9 L293.4,977.1 Q296,977 296,979.6 L296,990.4 Q296,993 293.4,993.1 L252.6,994.9 Q250,995 250,992.4 Z"/><path class="il" d="M251.5,991.8 L295.5,989.8"/><path d="M313,979.6 Q313,977 315.6,976.9 L333.4,976.1 Q336,976 336,978.6 L336,988.4 Q336,991 333.4,991.1 L315.6,991.9 Q313,992 313,989.4 Z"/><path class="il" d="M314.5,988.8 L335.5,987.8"/><path d="M62,1009.6 Q62,1007 64.6,1007.2 L82.4,1008.8 Q85,1009 85,1011.6 L85,1021.4 Q85,1024 82.4,1023.7 L64.6,1021.3 Q62,1021 62,1018.4 Z"/><path class="il" d="M63.5,1017.8 L84.5,1020.8"/><path d="M102,1011.6 Q102,1009 104.6,1009.2 L122.4,1010.8 Q125,1011 125,1013.6 L125,1023.4 Q125,1026 122.4,1025.8 L104.6,1024.2 Q102,1024 102,1021.4 Z"/><path class="il" d="M103.5,1020.8 L124.5,1022.8"/><path d="M142,1013.6 Q142,1011 144.6,1011 L185.4,1011 Q188,1011 188,1013.6 L188,1024.4 Q188,1027 185.4,1027 L144.6,1027 Q142,1027 142,1024.4 Z"/><path class="il" d="M143.5,1023.8 L187.5,1023.8"/><path d="M205,1013.6 Q205,1011 207.6,1010.9 L270.4,1008.1 Q273,1008 273,1010.6 L273,1018.4 Q273,1021 270.4,1021.2 L207.6,1024.8 Q205,1025 205,1022.4 Z"/><path class="il" d="M206.5,1021.8 L272.5,1017.8"/><path d="M290,1008.6 Q290,1006 292.6,1005.9 L333.4,1004.1 Q336,1004 336,1006.6 L336,1014.4 Q336,1017 333.4,1017.2 L292.6,1019.8 Q290,1020 290,1017.4 Z"/><path class="il" d="M291.5,1016.8 L335.5,1013.8"/><path d="M62,1035.6 Q62,1033 64.6,1033.2 L104.4,1036.8 Q107,1037 107,1039.6 L107,1046.4 Q107,1049 104.4,1048.7 L64.6,1044.3 Q62,1044 62,1041.4 Z"/><path class="il" d="M63.5,1040.8 L106.5,1045.8"/><path d="M143,1040.6 Q143,1038 145.6,1038 L185.4,1038 Q188,1038 188,1040.6 L188,1048.4 Q188,1051 185.4,1051 L145.6,1051 Q143,1051 143,1048.4 Z"/><path d="M205,1039.6 Q205,1037 207.6,1036.9 L247.4,1035.1 Q250,1035 250,1037.6 L250,1043.4 Q250,1046 247.4,1046.2 L207.6,1048.8 Q205,1049 205,1046.4 Z"/><path d="M268,1036.6 Q268,1034 270.6,1033.7 L315.4,1029.3 Q318,1029 318,1031.6 L318,1038.4 Q318,1041 315.4,1041.2 L270.6,1044.8 Q268,1045 268,1042.4 Z"/><path d="M62,1055.6 Q62,1053 64.6,1053.3 L127.4,1059.7 Q130,1060 130,1062.6 L130,1066.4 Q130,1069 127.4,1068.7 L64.6,1061.3 Q62,1061 62,1058.4 Z"/><path class="il" d="M63.5,1057.8 L129.5,1065.8"/><path d="M147,1062.6 Q147,1060 149.6,1060 L190.4,1060 Q193,1060 193,1062.6 L193,1066.4 Q193,1069 190.4,1069 L149.6,1069 Q147,1069 147,1066.4 Z"/><path d="M210,1059.6 Q210,1057 212.6,1057 L230.4,1057 Q233,1057 233,1059.6 L233,1064.4 Q233,1067 230.4,1067 L212.6,1067 Q210,1067 210,1064.4 Z"/><path d="M250,1057.6 Q250,1055 252.6,1054.9 L270.4,1054.1 Q273,1054 273,1056.6 L273,1060.4 Q273,1063 270.4,1063.2 L252.6,1064.8 Q250,1065 250,1062.4 Z"/><path d="M62,1070.3 Q62,1068 64.6,1068.3 L104.4,1073.7 Q107,1074 107,1076.6 L107,1077.4 Q107,1080 104.4,1079.6 L64.6,1073.4 Q62,1073 62,1070.7 Z"/><path d="M124,1077.6 Q124,1075 126.6,1075 L190.4,1075 Q193,1075 193,1077.6 L193,1079.4 Q193,1082 190.4,1082 L126.6,1082 Q124,1082 124,1079.4 Z"/><path d="M210,1076.6 Q210,1074 212.6,1073.8 L253.4,1071.2 Q256,1071 256,1073.6 L256,1075.4 Q256,1078 253.4,1078.2 L212.6,1080.8 Q210,1081 210,1078.4 Z"/><path d="M273,1071.6 Q273,1069 275.6,1068.8 L293.4,1067.2 Q296,1067 296,1069.6 L296,1070.4 Q296,1073 293.4,1073.2 L275.6,1074.8 Q273,1075 273,1072.4 Z"/></g>
<path class="sl" d="M63,1078 L85,1082 M102,1085 L147,1087.5 M165,1087 L206,1086 M207,1085 L233,1083 M250,1082 L296,1078"/>
<path class="ol" d="M332.5,793 V863 M297,832 H368"/>
<path class="tl" d="M421,852.8 H444 M421,861 Q421,857.5 425,857.5 H444"/></g>
<path class="tl" style="stroke-width:1.6" d="M160,869.5 L176,857.5 L187,868.5 M167,869.5 L176,862.5 L183,869.5 M176,857.5 L186,856 M221,870 A9,9 0 0 1 239,870 M244,859 L272,872 M250,857.5 L271,866 M207,866 Q215,862 222,863 M169,887 Q165,893 166,900 M220,885.5 A10,10 0 0 0 240,885.5 M275,889 L282,903 M286,889 L293,903 M293,889 L300,903 M270,890 Q272,897 270,902 M172,917 V934 M157,918 Q153,926 155,934 M189,917 Q192,918 193,921 M189,934 Q192,933 193,930 M219.5,917 V934 M221.5,917 V934 M258,918 Q253,924 254,934 M297,918 L299,934 M303,918 L306,934 M134,949 L140,966 M138,949 L144,966 M148,949 L154,966 M157,952 Q170,952 172,966 M187,950 Q182,958 189,966 M221,966 A9.5,9.5 0 0 1 240,966 M282,949 L284,958 L283,965 M289,949 L285,958 M168,983 L180,995 M184,992 Q186,978 196,979 Q205,981 206,993 M220,982 L232,994 M260,993 L271,980 M271,993 L285,980 M282,992 L292,979 M252,982 Q256,986 258,990 M206,1018 Q228,1019 244,1015 Q256,1012 264,1008 M614,872 Q624,862 640,859 Q656,857 676,857.5 M641.6,871 A12,12 0 0 1 665.6,871 M697,869.6 L708.8,857.6 M708,869.6 L716,860 L723,869.6 M584,901 L591.2,888.8 M593.6,901 L600.8,888.8 M603.2,901 L611.6,888.8 M611.5,888 Q615,894 613,901 M643,885.5 A10.8,10.8 0 0 0 664.6,885.5 M711,886 Q717,890 718,898 M579,917.6 L578,933 M585,917.6 L584,933 M626,917.6 Q632,922 633,929.6 M665.6,917 V934 M712.4,917 V934 M697,921 Q692,926 693,933 M730,918 Q735,924 735,933 M596,947 L601,958 L598,965 M606,947 L601,958 M644,965 A10.8,10.8 0 0 1 665.6,965 M711,965 Q716,952 730,949 M724,965 L734,951 M733,965 L743,951 M740,965 L749,951 M744,965 L752,951 M593,980 L605,992 M603,979 L615,992 M614,980 L627,992 M623,979 Q632,984 633,992 M677,996 A9.6,9.6 0 0 1 696,996 M700,982 L705,987 L718,980 M622,1007.6 Q632,1012 644,1015.5 Q660,1018 679,1017"/>
<path class="ol" style="stroke-width:2.4" d="M101.9,1084 C102,1085.7 101.6,1091 102.4,1094.3 C103.2,1097.6 104.2,1098.6 107,1103.6 C109.8,1108.6 115.6,1119.2 119.2,1124.2 C122.8,1129.2 125,1131.3 128.6,1133.5 C132.2,1135.7 136.3,1136.6 140.7,1137.2 C145,1137.8 150.5,1137.8 154.7,1137.2 C158.9,1136.6 162,1135.8 165.9,1133.5 C169.8,1131.2 173.9,1127.9 178,1123.2 C182.1,1118.5 187.6,1110.5 190.2,1105.5 C192.8,1100.5 192.9,1096.4 193.4,1093.3 C193.9,1090.2 193.4,1088 193.4,1087"/><path class="tl" style="stroke-width:1.5" d="M104.2,1083.2 C104.3,1084.9 103.9,1090.2 104.7,1093.5 C105.5,1096.8 106.5,1097.8 109.3,1102.8 C112.1,1107.8 117.9,1118.7 121.5,1123.4 C125.1,1128.1 127.3,1129.3 130.9,1131.2 C134.5,1133.1 139.4,1134.3 143,1134.9 C146.6,1135.5 149,1135.5 152.4,1134.9 C155.8,1134.3 159.7,1133.3 163.6,1131.2 C167.5,1129.1 171.6,1126.8 175.7,1122.4 C179.8,1118 185.3,1109.7 187.9,1104.7 C190.5,1099.7 190.6,1095.6 191.1,1092.5 C191.6,1089.4 191.1,1087.2 191.1,1086.2"/><path class="ol" style="stroke-width:2.3" d="M124.5,1088.7 C123.9,1089.8 121.2,1093 121.1,1095.2 C121,1097.4 121.7,1098.4 123.9,1101.7 C126.1,1105 131.5,1112 134.2,1114.8 C136.8,1117.6 136.4,1117.8 139.8,1118.6 C143.2,1119.4 151,1120 154.7,1119.5 C158.4,1119 159.4,1118.8 162.2,1115.8 C165,1112.8 169.3,1105.5 171.5,1101.7 C173.7,1098 174.6,1095.5 175.2,1093.3 C175.8,1091.1 175.2,1089.4 175.2,1088.6"/><path class="tl" style="stroke-width:1.2" d="M126.3,1088.7 C125.7,1089.8 123,1093 122.9,1095.2 C122.8,1097.4 123.5,1098.7 125.7,1101.7 C127.9,1104.7 133.3,1110.5 136,1113 C138.7,1115.5 138.8,1116 141.6,1116.8 C144.4,1117.6 149.8,1118.2 152.9,1117.7 C156,1117.2 157.6,1116.7 160.4,1114 C163.2,1111.3 167.5,1105.2 169.7,1101.7 C171.9,1098.2 172.8,1095.5 173.4,1093.3 C174,1091.1 173.4,1089.4 173.4,1088.6"/>
<path class="tl" d="M389.5,885 V1037.7 H396.7 M392.2,885 V935 M396.7,885 V1022.8 H484.6 V885 M396.7,1026.6 H485 M396.7,1029.5 H485 M489.3,885 V935 M492.4,885 V1037.7 H484.6"/>
<ellipse class="ol2" cx="395.3" cy="1068.2" rx="16.8" ry="5.2"/><ellipse fill="none" stroke="#000" stroke-width="1.4" cx="396" cy="1069" rx="12.5" ry="3.2"/><path fill="none" stroke="#000" stroke-width="3" stroke-linecap="round" d="M386,1070.2 L405,1068.2"/>
<ellipse class="ol2" cx="489" cy="1068.2" rx="16.8" ry="5.2"/><ellipse fill="none" stroke="#000" stroke-width="1.4" cx="489.5" cy="1069" rx="12.5" ry="3.2"/><path fill="none" stroke="#000" stroke-width="1.8" d="M489,1064.5 V1074 M479,1068.5 H500"/>
<path fill="#231f20" d="M257,1342.5 C270,1342.5 280,1352 280,1373.5 C280,1395 270,1404.5 257,1404.5 C244,1404.5 234.5,1395 234.5,1373.5 C234.5,1352 244,1342.5 257,1342.5 Z"/>
<path fill="none" stroke="#fff" stroke-width="3.8" stroke-linejoin="miter" d="M244,1361 L270.5,1385 L256,1398.5 V1348.5 L270.5,1362 L244,1386"/>
<text class="bt" x="290" y="1395" textLength="194" lengthAdjust="spacingAndGlyphs">Bluetooth</text>
<circle cx="486.5" cy="1357" r="4.2" fill="none" stroke="#231f20" stroke-width="1"/><text x="486.5" y="1359.8" font-family="Liberation Sans" font-weight="bold" font-size="6.5" text-anchor="middle" fill="#231f20">R</text>
<text class="wt" x="508" y="1395" textLength="728" lengthAdjust="spacingAndGlyphs">Wireless Technology Enabled Product</text>
</svg>
</body></html>
